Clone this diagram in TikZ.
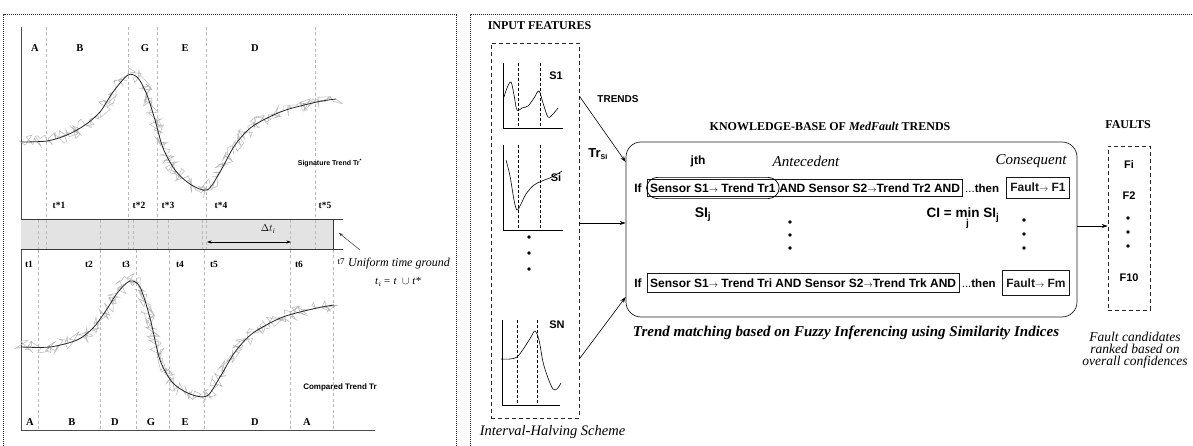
\documentclass[tikz,border=0pt]{standalone}
\usepackage{fontspec}
\setmainfont{Liberation Serif}
\newfontfamily\hv{Liberation Sans}
\usetikzlibrary{arrows.meta,decorations.pathmorphing,fit}
\newcommand{\myarr}{{\fontsize{9.5}{9.5}\selectfont$\rightarrow$}}
\newcommand{\fsz}[1]{\fontsize{#1}{#1}\selectfont}
\begin{document}
\begin{tikzpicture}[x=1pt,y=-1pt,
  panel/.style={line width=0.9pt, dash pattern=on 0.9pt off 1.1pt, black!85},
  vgrid/.style={gray!55, dash pattern=on 3pt off 2.5pt, line width=0.5pt},
  axisline/.style={gray!60!black, line width=0.8pt},
  noisy/.style={gray!55, line width=0.5pt, decorate, decoration={random steps, segment length=1.5pt, amplitude=7pt}},
  trend/.style={black!85, line width=0.8pt},
  lab/.style={inner sep=0pt, font=\fsz{10.5}\bfseries},
  tlab/.style={inner sep=0pt, font=\fsz{9.5}\bfseries},
  sflab/.style={inner sep=0pt, font=\hv\bfseries\fsz{11}},
  rtext/.style={inner sep=0pt, font=\hv\bfseries\fsz{12}},
  caps/.style={inner sep=0pt, font=\fsz{12}\bfseries},
  itcap/.style={inner sep=0pt, font=\fsz{13.5}\itshape, align=center},
  arr/.style={-{Stealth[length=6pt,width=4pt]}, line width=0.6pt},
  rulebox/.style={draw, line width=0.6pt, gray!20!black},
  mini/.style={line width=0.6pt},
  minidash/.style={dash pattern=on 3pt off 2pt, line width=0.5pt},
  dotmark/.style={circle, fill, inner sep=0pt, minimum size=3.6pt}
]
\pgfmathsetseed{7}
\useasboundingbox (0,0) rectangle (1193,446);
\fill[white] (0,0) rectangle (1193,446);

% ---------- panels
\draw[panel] (3.5,446) -- (3.5,14) -- (456,14) -- (456,446);
\draw[panel] (470.5,446) -- (470.5,14) -- (1193,14);

% ---------- left panel: band
\fill[gray!22] (21,220) rectangle (333,250);
\foreach \x in {38,46,100,128,133,157,168,202,206,290,315}
  \draw[vgrid] (\x,220) -- (\x,250);
% top chart grid
\foreach \x in {46,128,157,206,315}
  \draw[vgrid] (\x,27) -- (\x,220);
% bottom chart grid
\foreach \x in {38,100,136,169,204,290,333}
  \draw[vgrid] (\x,250) -- (\x,430);
\draw[axisline] (21,27) -- (21,220);
\draw[axisline] (21,250) -- (21,430) -- (375,430);
\draw[gray!45!black, line width=1pt] (21,220) -- (343,220);
\draw[gray!45!black, line width=1pt] (21,250) -- (343,250);
\draw[gray!45!black, line width=1pt] (333,220) -- (333,250);

% top trend
\draw[noisy] plot[smooth] coordinates {(21,142) (47,141) (67,135) (85,125) (100,112) (113,92) (128,75) (138,78) (147,95) (155,120) (163,148) (175,170) (190,184) (207,190) (220,172) (235,145) (253,126) (283,111) (317,102) (336,99)};
\draw[trend] plot[smooth] coordinates {(21,142) (47,141) (67,135) (85,125) (100,112) (113,92) (128,75) (138,78) (147,95) (155,120) (163,148) (175,170) (190,184) (207,190) (220,172) (235,145) (253,126) (283,111) (317,102) (336,99)};
% bottom trend
\draw[noisy] plot[smooth] coordinates {(21,347) (50,347) (77,340) (93,328) (105,312) (118,292) (130,281) (140,287) (150,318) (160,360) (173,383) (190,394) (207,396) (220,377) (235,352) (253,333) (283,317) (317,308) (334,305)};
\draw[trend] plot[smooth] coordinates {(21,347) (50,347) (77,340) (93,328) (105,312) (118,292) (130,281) (140,287) (150,318) (160,360) (173,383) (190,394) (207,396) (220,377) (235,352) (253,333) (283,317) (317,308) (334,305)};

% top letters
\node[lab] (ta) at (35,48) {A};
\node[lab] (tb) at (80,48) {B};
\node[lab] (tg) at (145,48) {G};
\node[lab] (te) at (185,48) {E};
\node[lab] (td) at (255,48) {D};
% t* labels
\node[tlab] (ts1) at (59,205) {t*1};
\node[tlab] (ts2) at (139,205) {t*2};
\node[tlab] (ts3) at (168,205) {t*3};
\node[tlab] (ts4) at (221,205) {t*4};
\node[tlab] (ts5) at (325,205) {t*5};
\node[inner sep=0pt, font=\hv\bfseries\fsz{7}] (sig) at (330,163) {Signature Trend Tr\textsuperscript{*}};
% t labels
\node[tlab] (t1) at (29,264) {t1};
\node[tlab] (t2) at (89,264) {t2};
\node[tlab] (t3) at (126,264) {t3};
\node[tlab] (t4) at (180,264) {t4};
\node[tlab] (t5) at (214,264) {t5};
\node[tlab] (t6) at (299,264) {t6};
\node[inner sep=0pt, font=\fsz{9}] (t7) at (341,262) {t7};
% delta t
\coordinate (dl) at (207,242);
\coordinate (dr) at (291,242);
\draw[{Stealth[length=4.5pt,width=3pt]}-{Stealth[length=4.5pt,width=3pt]}, line width=0.6pt] (dl) -- (dr);
\node[inner sep=0pt, font=\fsz{10}] (dt) at (268,229) {$\Delta t_{\mathit{i}}$};
% uniform time ground
\node[inner sep=0pt, font=\fsz{12}\itshape, anchor=west] (ug) at (348,264) {Uniform time ground};
\node[inner sep=0pt, font=\fsz{11}\itshape] (ugf) at (398,282) {t$_i$\,= t \ $\cup$ t*};
\coordinate (ugtail) at (360,250);
\coordinate (ugtip) at (339,233);
\draw[-{Stealth[length=4pt,width=3pt]}, line width=0.5pt, gray!40!black] (ugtail) -- (ugtip);
\node[inner sep=0pt, font=\hv\bfseries\fsz{8}] (cmp) at (340,387) {Compared Trend Tr};
% bottom letters
\node[lab] (ba) at (30,422) {A};
\node[lab] (bb) at (72,422) {B};
\node[lab] (bd) at (115,422) {D};
\node[lab] (bg) at (151,422) {G};
\node[lab] (be) at (185,422) {E};
\node[lab] (bd2) at (255,422) {D};
\node[lab] (ba2) at (307,422) {A};

% ---------- right panel: input features
\node[caps] (inf) at (539.5,26) {INPUT FEATURES};
\node[draw, dash pattern=on 4pt off 3pt, line width=0.6pt, gray!30!black, minimum width=88pt, minimum height=375pt, inner sep=0pt] (inbox) at (535,230.5) {};
% S1
\draw[mini] (503,63) -- (503,128) -- (563,128);
\draw[minidash] (518,63) -- (518,128);
\draw[minidash] (540,63) -- (540,128);
\draw[mini] plot[smooth, tension=0.55] coordinates {(504,97) (507,88) (511,82) (514,95) (517,110) (522,108) (528,106) (534,98) (539,91) (543,103) (548,117) (553,114) (558,108)};
\node[sflab] (s1) at (556,76) {S1};
% Si
\draw[mini] (503,145) -- (503,230) -- (563,230);
\draw[minidash] (518,145) -- (518,230);
\draw[minidash] (540,145) -- (540,230);
\draw[mini] plot[smooth, tension=0.55] coordinates {(506,160) (510,176) (514,200) (517,210) (521,204) (526,194) (534,185) (542,181) (552,177) (562,171)};
\node[sflab] (si) at (556,178) {Si};
% dots
\node[dotmark] (id1) at (529,237) {};
\node[dotmark] (id2) at (529,253) {};
\node[dotmark] (id3) at (529,269) {};
% SN
\draw[mini] (502,320) -- (502,405) -- (560,405);
\draw[minidash] (517,320) -- (517,405);
\draw[minidash] (537,320) -- (537,405);
\draw[mini] plot[smooth, tension=0.55] coordinates {(501,359) (510,359) (517,357) (524,348) (531,337) (535,331) (539,340) (543,362) (548,378) (553,389) (557,389) (561,383)};
\node[sflab] (sn) at (557,325) {SN};
\node[inner sep=0pt, font=\fsz{14.5}\itshape] (ihs) at (552.5,432) {Interval-Halving Scheme};

% ---------- knowledge base
\node[caps] (kbt) at (830,126) {KNOWLEDGE-BASE OF \textit{MedFault} TRENDS};
\node[draw, rounded corners=15pt, line width=0.7pt, gray!25!black, minimum width=451pt, minimum height=175pt, inner sep=0pt] (kb) at (851.5,229.5) {};
\node[inner sep=0pt, font=\hv\bfseries\fsz{10}] (trends) at (618,99) {TRENDS};
\node[inner sep=0pt, font=\hv\bfseries\fsz{13}] (trsi) at (598,154) {Tr$_{\hbox{\hv\bfseries\fsz{7}SI}}$};
\draw[arr] (inbox.east |- 0,96) -- (kb.west |- 0,162);
\draw[arr] (inbox.east |- 0,223) -- (kb.west |- 0,223);
\draw[arr] (inbox.east |- 0,359) -- (kb.west |- 0,297);

\node[sflab, font=\hv\bfseries\fsz{12}] (jth) at (698,161) {jth};
\node[inner sep=0pt, font=\fsz{15}\itshape] (ante) at (806,161) {Antecedent};
\node[inner sep=0pt, font=\fsz{15}\itshape] (cons) at (1031,161) {Consequent};

% rule 1
\node[rtext] (if1) at (638,188) {If};
\node[rtext, anchor=west] (r1a) at (650,188) {Sensor S1\myarr{} Trend Tr1};
\node[rtext, anchor=west] (r1b) at ([xshift=3.5pt]r1a.east) {AND Sensor S2\myarr{}Trend Tr2 AND};
\node[rulebox, fit=(r1a)(r1b), inner xsep=2.5pt, inner ysep=4pt] (r1box) {};
\node[draw, rounded corners=11pt, line width=0.7pt, fit=(r1a), inner xsep=3.5pt, inner ysep=6pt] (r1ell) {};
\node[inner sep=0pt, font=\hv\fsz{11.5}, anchor=west] (then1) at ([xshift=2pt]r1box.east) {...\textbf{then}};
\node[rtext, rulebox, inner sep=4pt, minimum height=21pt] (f1) at (1038,187.5) {Fault\myarr{} F1};

\node[inner sep=0pt, font=\hv\bfseries\fsz{14}] (sij) at (703,215) {SI$_{\hbox{\hv\bfseries\fsz{10}j}}$};
\node[dotmark] (md1) at (790,222) {};
\node[dotmark] (md2) at (790,235) {};
\node[dotmark] (md3) at (790,248) {};
\node[inner sep=0pt, font=\hv\bfseries\fsz{13.5}] (ci) at (963,219) {CI = $\mathop{\hbox{\hv\bfseries\fsz{13.5}min}}\limits_{\hbox{\hv\bfseries\fsz{10}j}}$ SI$_{\hbox{\hv\bfseries\fsz{10}j}}$};
\node[dotmark] (cd1) at (1024,220) {};
\node[dotmark] (cd2) at (1024,234) {};
\node[dotmark] (cd3) at (1024,248) {};

% rule 2
\node[rtext] (if2) at (638,283) {If};
\node[rtext, anchor=west] (r2a) at (650,283) {Sensor S1\myarr{} Trend Tri AND Sensor S2\myarr{}Trend Trk AND};
\node[rulebox, fit=(r2a), inner xsep=3pt, inner ysep=5pt] (r2box) {};
\node[inner sep=0pt, font=\hv\fsz{11.5}, anchor=west] (then2) at ([xshift=2pt]r2box.east) {...\textbf{then}};
\node[rtext, rulebox, inner sep=4pt, minimum height=25pt] (fm) at (1036,283) {Fault\myarr{} Fm};

\node[inner sep=0pt, font=\fsz{15}\bfseries\itshape] (tm) at (846,333) {Trend matching based on Fuzzy Inferencing using Similarity Indices};

% ---------- faults
\node[caps] (flt) at (1128,125) {FAULTS};
\node[draw, dash pattern=on 4pt off 3pt, line width=0.6pt, gray!30!black, minimum width=42pt, minimum height=164pt, inner sep=0pt] (fbox) at (1129,228) {};
\draw[arr] (kb.east |- 0,226) -- (fbox.west |- 0,226);
\node[sflab] (fi) at (1129,165) {Fi};
\node[sflab] (f2) at (1129,196) {F2};
\node[dotmark] (fd1) at (1128,218) {};
\node[dotmark] (fd2) at (1128,232) {};
\node[dotmark] (fd3) at (1128,246) {};
\node[sflab] (f10) at (1129,278) {F10};
\node[itcap, font=\fsz{13.5}\itshape, align=center] (fc) at (1135,350) {Fault candidates\\[-1.5pt]ranked based on\\[-1.5pt]overall confidences};
\end{tikzpicture}
\end{document}
